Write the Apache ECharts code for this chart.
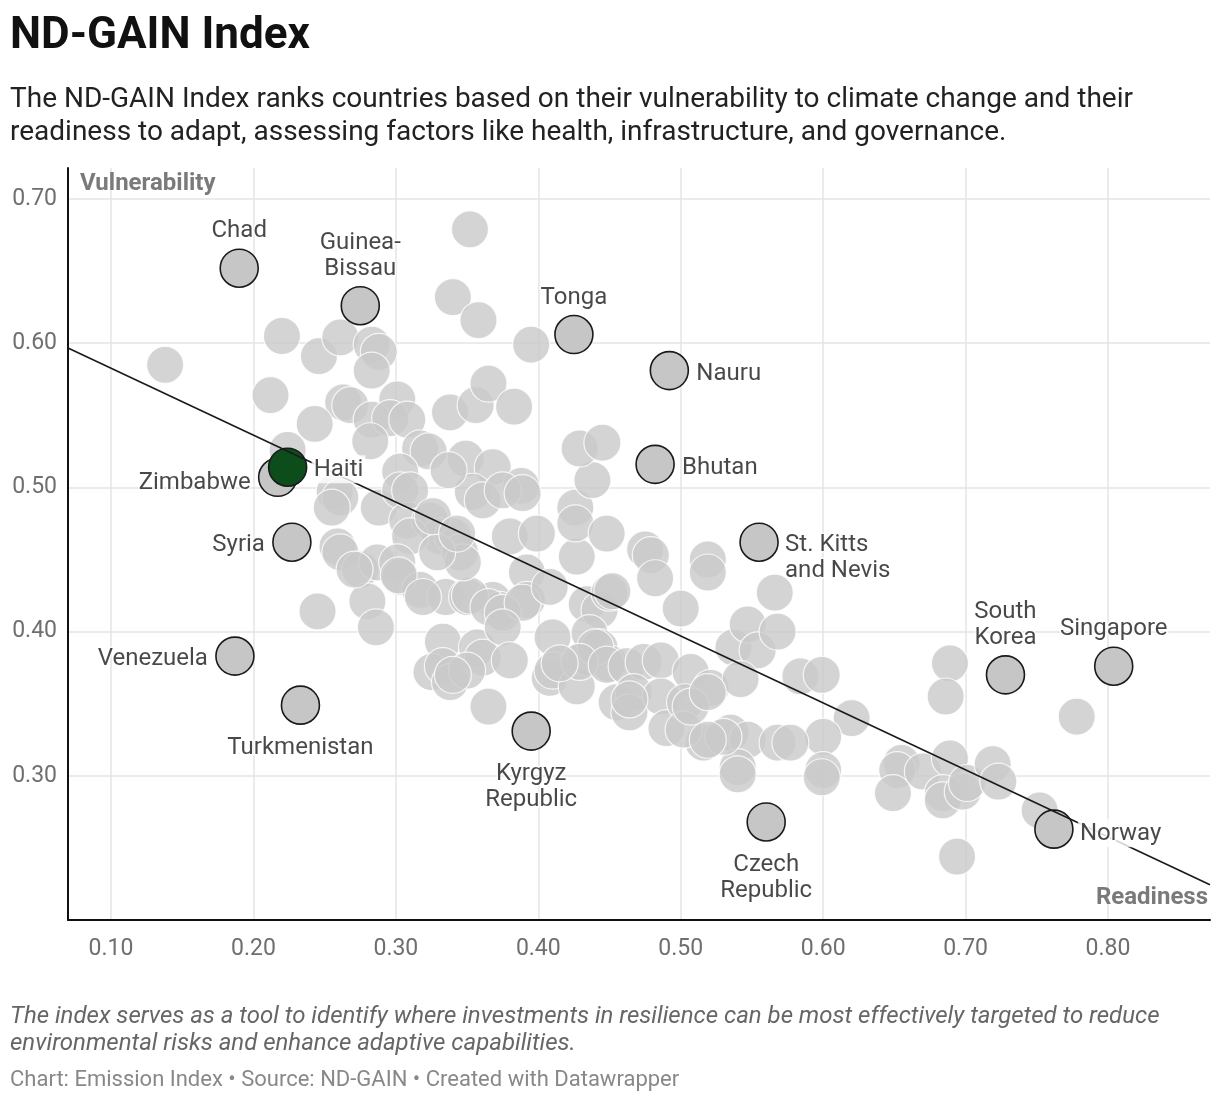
<!DOCTYPE html>
<html>
<head>
<meta charset="utf-8">
<script src="https://cdn.jsdelivr.net/npm/echarts@6/dist/echarts.min.js"></script>
<style>
html,body{margin:0;padding:0;background:#fff;}
#chart{width:1220px;height:1102px;}
</style>
</head>
<body>
<div id="chart"></div>
<script>
// ---- Data (Readiness = x, Vulnerability = y) ----
const grayX = [0.138,0.212,0.220,0.224,0.245,0.352,0.340,0.358,0.395,0.246,0.261,0.283,0.288,0.283,0.263,0.268,0.301,0.243,0.283,0.296,
0.308,0.282,0.317,0.323,0.338,0.356,0.365,0.383,0.349,0.368,0.388,0.354,0.303,0.257,0.261,0.255,0.288,0.303,0.308,0.324,
0.331,0.310,0.340,0.345,0.380,0.399,0.392,0.259,0.261,0.275,0.287,0.301,0.303,0.317,0.335,0.350,0.368,0.373,0.392,0.280,
0.286,0.271,0.302,0.319,0.352,0.365,0.375,0.389,0.408,0.427,0.347,0.329,0.434,0.443,0.450,0.333,0.325,0.333,0.338,0.357,
0.361,0.350,0.375,0.380,0.365,0.410,0.408,0.410,0.427,0.434,0.436,0.443,0.450,0.455,0.361,0.375,0.389,0.426,0.426,0.438,
0.448,0.429,0.445,0.475,0.479,0.482,0.519,0.519,0.500,0.452,0.440,0.429,0.448,0.462,0.474,0.486,0.507,0.521,0.467,0.464,
0.486,0.490,0.503,0.516,0.535,0.547,0.540,0.540,0.537,0.547,0.554,0.566,0.568,0.568,0.542,0.584,0.599,0.620,0.600,0.600,
0.599,0.577,0.689,0.686,0.778,0.655,0.652,0.649,0.670,0.689,0.684,0.684,0.698,0.701,0.719,0.723,0.752,0.694,0.310,0.326,
0.343,0.337,0.415,0.464,0.502,0.530,0.519,0.340,0.507,0.519];
const grayY = [0.585,0.564,0.605,0.526,0.414,0.679,0.632,0.616,0.599,0.591,0.604,0.599,0.594,0.581,0.559,0.557,0.561,0.544,0.547,0.548,
0.547,0.532,0.527,0.525,0.552,0.557,0.572,0.556,0.520,0.514,0.501,0.497,0.511,0.497,0.493,0.486,0.486,0.498,0.477,0.477,
0.466,0.466,0.466,0.455,0.466,0.468,0.441,0.459,0.455,0.443,0.448,0.448,0.438,0.429,0.424,0.424,0.422,0.415,0.422,0.421,
0.403,0.443,0.439,0.424,0.425,0.417,0.413,0.420,0.431,0.452,0.448,0.455,0.419,0.415,0.427,0.393,0.372,0.376,0.365,0.389,
0.382,0.373,0.403,0.380,0.348,0.396,0.368,0.373,0.362,0.382,0.399,0.389,0.378,0.351,0.491,0.498,0.496,0.486,0.475,0.505,
0.468,0.527,0.531,0.457,0.453,0.437,0.450,0.441,0.416,0.428,0.389,0.379,0.377,0.376,0.379,0.380,0.372,0.361,0.358,0.344,
0.355,0.333,0.351,0.323,0.330,0.325,0.306,0.301,0.389,0.405,0.387,0.427,0.400,0.323,0.367,0.369,0.370,0.340,0.327,0.304,
0.299,0.323,0.378,0.355,0.341,0.309,0.304,0.288,0.303,0.312,0.288,0.283,0.289,0.295,0.308,0.296,0.276,0.244,0.498,0.480,
0.468,0.512,0.378,0.353,0.332,0.327,0.325,0.370,0.348,0.358];

const hlNames = ['Chad','Guinea-\nBissau','Tonga','Nauru','Bhutan','St. Kitts\nand Nevis','Zimbabwe','Haiti','Syria','Venezuela',
  'Turkmenistan','Kyrgyz\nRepublic','Czech\nRepublic','South\nKorea','Singapore','Norway'];
const hlX = [0.190,0.275,0.425,0.492,0.482,0.555,0.217,0.224,0.227,0.187,0.233,0.395,0.560,0.728,0.804,0.762];
const hlY = [0.652,0.626,0.606,0.581,0.516,0.462,0.507,0.514,0.462,0.383,0.349,0.331,0.268,0.370,0.376,0.263];

const trendX = [0.0698,0.8716];
const trendY = [0.5967,0.2244];

const xTicks = [0.10,0.20,0.30,0.40,0.50,0.60,0.70,0.80];
const yTicks = [0.30,0.40,0.50,0.60,0.70];

// ---- Styling / layout (label placement relative to the symbol box) ----
const labelPos = {
  'Chad':'top','Guinea-\nBissau':'top','Tonga':'top','Nauru':['R',46,9],'Bhutan':['R',46,10],
  'St. Kitts\nand Nevis':['R',45,9],'Zimbabwe':['L',-8,12],'Haiti':['R',43,7],'Syria':['L',-8,9],'Venezuela':['L',-8,9],
  'Turkmenistan':'bottom','Kyrgyz\nRepublic':'bottom','Czech\nRepublic':'bottom','South\nKorea':'top',
  'Singapore':'top','Norway':['R',43,9]
};
const FONT = 'Roboto, "Noto Sans", sans-serif';

const grayData = grayX.map((x,i)=>[x, grayY[i]]);
const hlData = hlNames.map((n,i)=>({
  name:n, value:[hlX[i], hlY[i]],
  itemStyle: n==='Haiti' ? {color:'#0d4d1c'} : undefined
}));
const labelData = hlNames.map((n,i)=>{
  const p = labelPos[n];
  const lab = {};
  if (Array.isArray(p)) {
    lab.position = [p[1], p[2]];
    lab.align = p[0]==='R' ? 'left' : 'right';
    lab.verticalAlign = 'top';
  } else {
    lab.position = p;
    lab.distance = p==='top' ? 5 : 11;
  }
  if (n==='Haiti' || n==='Norway') { lab.backgroundColor = '#fff'; lab.padding = [2,2,0,2]; }
  return {name:n, value:[hlX[i], hlY[i]], label: lab};
});

const chart = echarts.init(document.getElementById('chart'), null, {renderer:'canvas'});
chart.setOption({
  animation:false,
  backgroundColor:'#fff',
  textStyle:{fontFamily:FONT},
  grid:{left:68, right:10, top:168, bottom:182, containLabel:false},
  xAxis:{
    type:'value', min:0.0698, max:0.8716,
    axisLine:{show:true, onZero:false, lineStyle:{color:'#111', width:2}},
    axisTick:{show:false, customValues:xTicks},
    splitLine:{show:true, lineStyle:{color:'#e5e5e5', width:1.5}},
    axisLabel:{customValues:xTicks, formatter:v=>v.toFixed(2), color:'#6f6f6f', fontSize:23, margin:18, fontFamily:FONT}
  },
  yAxis:{
    type:'value', min:0.2, max:0.7215,
    axisLine:{show:true, onZero:false, lineStyle:{color:'#111', width:2}},
    axisTick:{show:false, customValues:yTicks},
    splitLine:{show:true, lineStyle:{color:'#e5e5e5', width:1.5}},
    axisLabel:{customValues:yTicks, formatter:v=>v.toFixed(2), color:'#6f6f6f', fontSize:23, margin:11, fontFamily:FONT, padding:[3,0,0,0]}
  },
  graphic:[
    {type:'text', left:10, top:15, style:{text:'ND-GAIN Index', font:'bold 44px Roboto', fill:'#111'}},
    {type:'text', left:10, top:83, style:{text:'The ND-GAIN Index ranks countries based on their vulnerability to climate change and their\nreadiness to adapt, assessing factors like health, infrastructure, and governance.', font:'28px Roboto', fill:'#222', lineHeight:33}},
    {type:'text', left:80, top:172, z:10, style:{text:'Vulnerability', font:'bold 24px Roboto', fill:'#7a7a7a'}},
    {type:'text', right:12, top:886, z:10, style:{text:'Readiness', font:'bold 24px Roboto', fill:'#7a7a7a'}},
    {type:'text', left:10, top:1003, style:{text:'The index serves as a tool to identify where investments in resilience can be most effectively targeted to reduce\nenvironmental risks and enhance adaptive capabilities.', font:'italic 24px Roboto', fill:'#666', lineHeight:27}},
    {type:'text', left:10, top:1069, style:{text:'Chart: Emission Index • Source: ND-GAIN • Created with Datawrapper', font:'22px Roboto', fill:'#888'}}
  ],
  series:[
    {
      type:'scatter', z:2, symbolSize:37, data:grayData, silent:true,
      itemStyle:{color:'#c9c9c9', opacity:0.8, borderColor:'#fff', borderWidth:1.2}
    },
    {
      type:'scatter', z:3, symbolSize:38, data:hlData, silent:true,
      itemStyle:{color:'#c6c6c6', opacity:1, borderColor:'#1a1a1a', borderWidth:1.6}
    },
    {
      type:'line', z:4, data:trendX.map((x,i)=>[x, trendY[i]]), symbol:'none', silent:true,
      lineStyle:{color:'#1a1a1a', width:1.6}
    },
    {
      type:'scatter', z:5, symbolSize:38, data:labelData, silent:true,
      itemStyle:{color:'rgba(0,0,0,0)'},
      label:{show:true, formatter:p=>p.name, fontSize:24, lineHeight:26, color:'#1a1a1a', distance:8, fontFamily:FONT,
        textBorderColor:'#fff', textBorderWidth:3},
      labelLayout:{hideOverlap:false}
    }
  ]
});
</script>
</body>
</html>
